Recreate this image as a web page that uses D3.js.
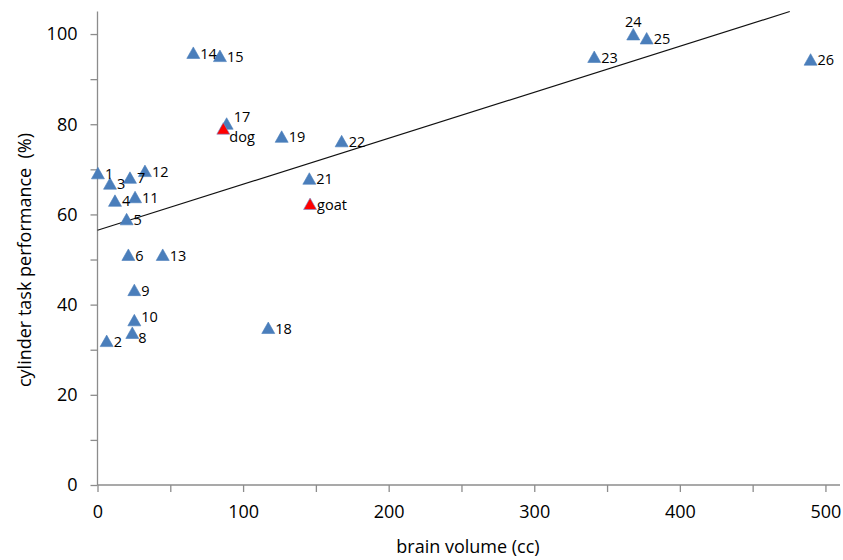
<!DOCTYPE html>
<html><head><meta charset="utf-8">
<script src="https://cdn.jsdelivr.net/npm/d3@7"></script>
<style>
html,body{margin:0;padding:0;background:#fff;}
svg text{font-family:"Open Sans",sans-serif;fill:#000;}
</style></head>
<body><svg id="c" width="843" height="560"></svg>
<script>
// Data
const labels = ["1","2","3","4","5","6","7","8","9","10","11","12","13","14","15","17","18","19","21","22","23","24","25","26","dog","goat"];
const brainVolume = [0.3,6.3,8.6,12.0,20.0,21.2,22.3,23.9,25.3,25.3,25.8,32.6,44.8,65.8,84.1,88.7,117.3,126.5,145.5,167.7,341.2,368.0,377.2,489.8,86.4,146.0];
const performance = [69.0,31.8,66.7,62.9,58.8,50.9,68.0,33.6,43.1,36.4,63.7,69.5,50.9,95.7,95.0,80.0,34.7,77.1,67.8,76.1,94.8,99.8,98.9,94.2,78.9,62.2];
const group = ["a","a","a","a","a","a","a","a","a","a","a","a","a","a","a","a","a","a","a","a","a","a","a","a","b","b"];
const trendIntercept = 56.5, trendSlope = 0.102;
const xTicks = [0,50,100,150,200,250,300,350,400,450,500];
const xTickLabels = [0,100,200,300,400,500];
const yTicks = [0,10,20,30,40,50,60,70,80,90,100];
const yTickLabels = [0,20,40,60,80,100];

const svg = d3.select("#c");
const x = d3.scaleLinear().domain([0,510]).range([97.5,840]);
const y = d3.scaleLinear().domain([0,105]).range([485,11.5]);
const axisColor = "#8c8c8c";

// y axis
const ya = svg.append("g").attr("transform",`translate(${x(0)},0)`)
  .call(d3.axisLeft(y).tickValues(yTicks).tickSize(7).tickFormat(d=> yTickLabels.includes(d)? d : ""));
ya.select(".domain").attr("stroke",axisColor).attr("stroke-width",1.3).attr("d",`M0,${y(105)}V${y(0)}`);
ya.selectAll(".tick line").attr("stroke",axisColor).attr("stroke-width",1.3);
ya.selectAll(".tick text").attr("font-size",18).attr("x",-20).attr("font-family","Open Sans");

// x axis
const xa = svg.append("g").attr("transform",`translate(0,${y(0)})`)
  .call(d3.axisBottom(x).tickValues(xTicks).tickSize(7).tickFormat(d=> xTickLabels.includes(d)? d : ""));
xa.select(".domain").attr("stroke",axisColor).attr("stroke-width",1.3).attr("d",`M${x(0)},0H${x(510)}`);
xa.selectAll(".tick line").attr("stroke",axisColor).attr("stroke-width",1.3);
xa.selectAll(".tick text").attr("font-size",18).attr("y",20).attr("font-family","Open Sans");

// trend line
const xEnd = Math.min(510,(105-trendIntercept)/trendSlope);
svg.append("line")
  .attr("x1",x(0)).attr("y1",y(trendIntercept))
  .attr("x2",x(xEnd)).attr("y2",y(trendIntercept+trendSlope*xEnd))
  .attr("stroke","#111").attr("stroke-width",1.2);

// markers
const pts = labels.map((l,i)=>({l, xv:brainVolume[i], yv:performance[i], g:group[i]}));
const tri = "M0,-6.5L6.5,5L-6.5,5Z";
svg.append("g").selectAll("path").data(pts).join("path")
  .attr("d",tri)
  .attr("transform",d=>`translate(${x(d.xv)},${y(d.yv)})`)
  .attr("fill",d=>d.g==="a"?"#4a7ebb":"#ff0000")
  .attr("stroke",d=>d.g==="a"?"#4a7ebb":"#6f8fcf")
  .attr("stroke-width",0.6);

// labels
const special = {
  "24":{dx:0,dy:-13,anchor:"middle"},
  "dog":{dx:6,dy:8,anchor:"start"},
  "17":{dx:7,dy:-7,anchor:"start"},
  "10":{dx:7,dy:-4,anchor:"start"},
  "8":{dx:6,dy:4,anchor:"start"}
};
svg.append("g").selectAll("text").data(pts).join("text")
  .attr("x",d=>x(d.xv)+(special[d.l]?special[d.l].dx:7))
  .attr("y",d=>y(d.yv)+(special[d.l]?special[d.l].dy:0))
  .attr("text-anchor",d=>special[d.l]?special[d.l].anchor:"start")
  .attr("dy","0.35em")
  .attr("font-size",14.5)
  .text(d=>d.l);

// axis titles
svg.append("text").attr("x",468).attr("y",553).attr("text-anchor","middle")
  .attr("font-size",18).text("brain volume (cc)");
svg.append("text").attr("transform","translate(31,260) rotate(-90)").attr("text-anchor","middle")
  .attr("font-size",18).style("white-space","pre").text("cylinder task performance  (%)");
</script></body></html>
